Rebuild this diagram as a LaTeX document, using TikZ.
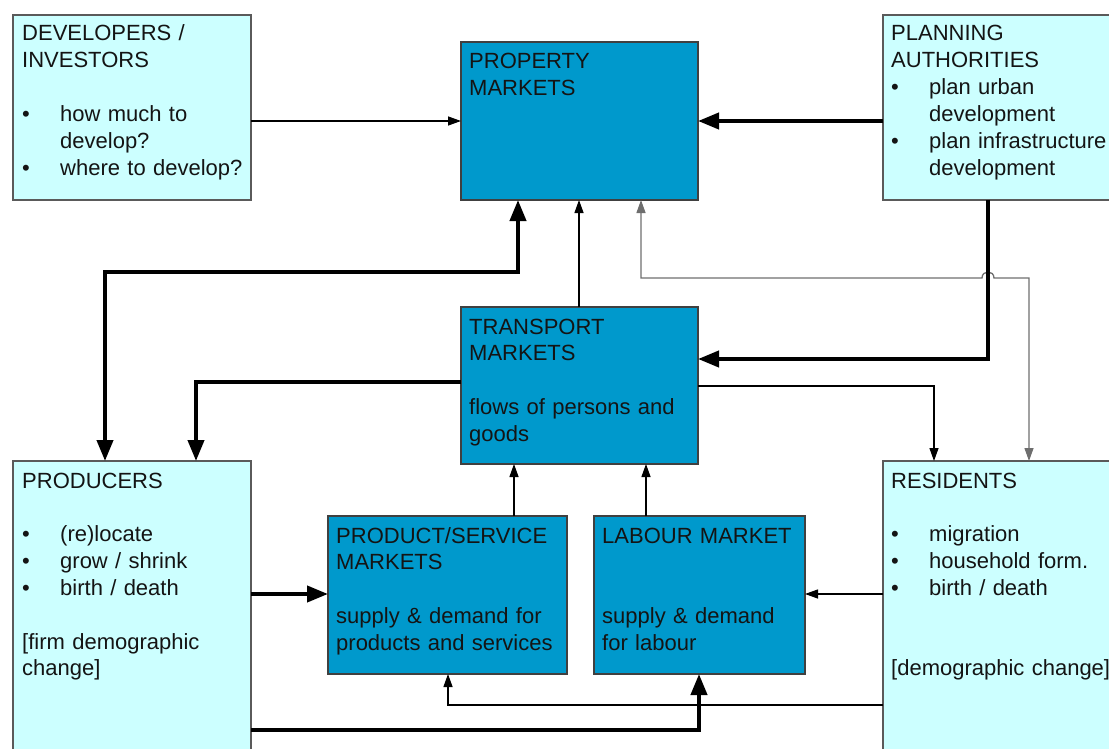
\documentclass[tikz,border=0pt]{standalone}
\usepackage{fontspec}
\setmainfont{Liberation Sans}
\usetikzlibrary{arrows.meta,calc}
\definecolor{lightc}{HTML}{CCFFFF}
\definecolor{darkc}{HTML}{0099CC}
\definecolor{boxline}{HTML}{5A5A5A}
\definecolor{grayline}{HTML}{6E6E6E}
\newcommand\bul{\makebox[38pt][l]{•}}
\newcommand\ind{\hspace*{38pt}}
\begin{document}
\begin{tikzpicture}[x=1pt,y=-1pt,
 lbox/.style={draw=boxline,fill=lightc,line width=1.4pt,inner sep=0pt,outer sep=0pt,anchor=north west},
 dbox/.style={lbox,fill=darkc,draw=black!75},
 txt/.style={anchor=base west,align=left,inner sep=0pt,text width=240pt,text=black!92,font=\fontsize{22}{26.85}\selectfont},
 thinc/.style={line width=1.3pt,-{Triangle[length=13pt,width=9pt]}},
 thinboth/.style={line width=1.3pt,{Triangle[length=13pt,width=9pt]}-{Triangle[length=13pt,width=9pt]}},
 thickc/.style={line width=4pt,-{Triangle[length=21pt,width=16pt]}},
 thickboth/.style={line width=4pt,{Triangle[length=21pt,width=16pt]}-{Triangle[length=21pt,width=16pt]}},
]
\useasboundingbox (0,0) rectangle (1109,749);
% boxes
\node[lbox,minimum width=238pt,minimum height=185pt] (dev) at (13,15) {};
\node[dbox,minimum width=237pt,minimum height=158pt] (prop) at (461,42) {};
\node[lbox,minimum width=240pt,minimum height=185pt] (plan) at (883,15) {};
\node[dbox,minimum width=237pt,minimum height=157pt] (trans) at (461,307) {};
\node[lbox,minimum width=238pt,minimum height=300pt] (prod) at (13,461) {};
\node[dbox,minimum width=239pt,minimum height=158pt] (ps) at (328,516) {};
\node[dbox,minimum width=211pt,minimum height=158pt] (lab) at (594,516) {};
\node[lbox,minimum width=240pt,minimum height=300pt] (res) at (883,461) {};
% texts
\node[txt] (devt) at ([shift={(9,26)}]dev.north west) {DEVELOPERS /\\INVESTORS\\[26.85pt]\bul how much to\\\ind develop?\\\bul where to develop?};
\node[txt] (propt) at ([shift={(8,27)}]prop.north west) {PROPERTY\\MARKETS};
\node[txt] (plant) at ([shift={(8,26)}]plan.north west) {PLANNING\\AUTHORITIES\\\bul plan urban\\\ind development\\\bul plan infrastructure\\\ind development};
\node[txt] (transt) at ([shift={(8,27)}]trans.north west) {TRANSPORT\\MARKETS\\[26.85pt]flows of persons and\\goods};
\node[txt] (prodt) at ([shift={(9,27)}]prod.north west) {PRODUCERS\\[26.85pt]\bul (re)locate\\\bul grow / shrink\\\bul birth / death\\[26.85pt][firm demographic\\change]};
\node[txt] (pst) at ([shift={(8,27)}]ps.north west) {PRODUCT/SERVICE\\MARKETS\\[26.85pt]supply \& demand for\\products and services};
\node[txt] (labt) at ([shift={(8,27)}]lab.north west) {LABOUR MARKET\\[53.7pt]supply \& demand\\for labour};
\node[txt] (rest) at ([shift={(8,27)}]res.north west) {RESIDENTS\\[26.85pt]\bul migration\\\bul household form.\\\bul birth / death\\[53.7pt][demographic change]};
% connector coordinates
\coordinate (r121) at (0,121);
\coordinate (k1) at (105,272);
\coordinate (k2) at (518,272);
\coordinate (k3) at (196,382);
\coordinate (k4) at (579,0);
\coordinate (k5) at (988,359);
\coordinate (k6) at (641,278);
\coordinate (k7) at (1029,278);
\coordinate (k8) at (934,386);
\coordinate (k9) at (0,594);
\coordinate (k10) at (514,0);
\coordinate (k11) at (646,0);
\coordinate (k12) at (448,705);
\coordinate (k13) at (699,730);
% connectors
\draw[thinc] (dev.east |- r121) -- (prop.west |- r121);
\draw[thickc] (plan.west |- r121) -- (prop.east |- r121);
\draw[thickboth] (prod.north -| k1) -- (k1) -- (k2) -- (prop.south -| k2);
\draw[thickc] (trans.west |- k3) -- (k3) -- (prod.north -| k3);
\draw[thinc] (trans.north -| k4) -- (prop.south -| k4);
\draw[thinboth,draw=grayline] (prop.south -| k6) -- (k6) -- ($(k5|-k6)+(-6,0)$) .. controls ($(k5|-k6)+(-6,-8)$) and ($(k5|-k6)+(6,-8)$) .. ($(k5|-k6)+(6,0)$) -- (k7) -- (res.north -| k7);
\draw[thickc] (plan.south -| k5) -- (k5) -- (trans.east |- k5);
\draw[thinc] (trans.east |- k8) -- (k8) -- (res.north -| k8);
\draw[thickc] (prod.east |- k9) -- (ps.west |- k9);
\draw[thinc] (res.west |- k9) -- (lab.east |- k9);
\draw[thinc] (ps.north -| k10) -- (trans.south -| k10);
\draw[thinc] (lab.north -| k11) -- (trans.south -| k11);
\draw[thinc] (res.west |- k12) -- (k12) -- (ps.south -| k12);
\draw[thickc] (prod.east |- k13) -- (k13) -- (lab.south -| k13);
\end{tikzpicture}
\end{document}
